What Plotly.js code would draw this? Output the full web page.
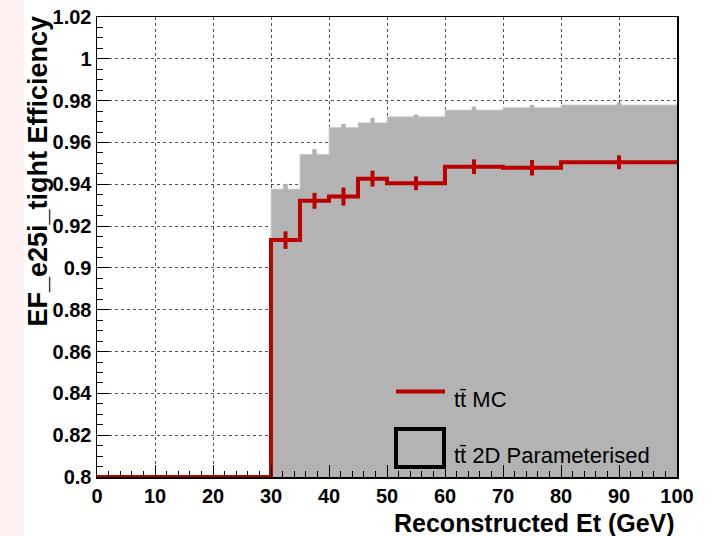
<!DOCTYPE html>
<html><head><meta charset="utf-8">
<script src="https://cdn.plot.ly/plotly-3.0.1.min.js"></script>
<style>html,body{margin:0;padding:0;background:#fff}#chart{width:708px;height:536px}</style>
</head><body><div id="chart"></div><script>
// ---- data ----
const binEdges = [0, 30, 35, 40, 45, 50, 60, 70, 80, 100];
const binCenters = [15, 32.5, 37.5, 42.5, 47.5, 55, 65, 75, 90];
const mcEff = [0, 0.9133, 0.9321, 0.9341, 0.9427, 0.9405, 0.9484, 0.9479, 0.9505];
const mcErr = [0, 0.0042, 0.0038, 0.0043, 0.0038, 0.0033, 0.0035, 0.0037, 0.0033];
const paramEff = [0, 0.9377, 0.9543, 0.9672, 0.9694, 0.9723, 0.9755, 0.9766, 0.9779];
const paramErr = [0, 0.0025, 0.0025, 0.0016, 0.0024, 0.0011, 0.0016, 0.0013, 0.0011];
const xTickVals = [0, 10, 20, 30, 40, 50, 60, 70, 80, 90, 100];
const xTickText = ['0', '10', '20', '30', '40', '50', '60', '70', '80', '90', '100'];
const yTickVals = [0.8, 0.82, 0.84, 0.86, 0.88, 0.9, 0.92, 0.94, 0.96, 0.98, 1, 1.02];
const yTickText = ['0.8', '0.82', '0.84', '0.86', '0.88', '0.9', '0.92', '0.94', '0.96', '0.98', '1', '1.02'];
const seriesNames = ['tt\u0304 MC', 'tt\u0304 2D Parameterised'];
const xTitle = 'Reconstructed Et (GeV)';
const yTitle = 'EF_e25i_tight Efficiency';

// ---- build ----
const yMin = 0.8, yMax = 1.02;
const RED = '#bb0000', GRAY = '#b3b3b3';
const FONT = 'Liberation Sans, Arial, Helvetica, sans-serif';
const stepY = v => v.concat([v[v.length - 1]]);

const traces = [
  { x: binEdges, y: stepY(paramEff), mode: 'lines', line: { shape: 'hv', color: '#d2d2d2', width: 1 },
    fill: 'tozeroy', fillcolor: GRAY, name: seriesNames[1], showlegend: false, hoverinfo: 'skip' },
  { x: binCenters.slice(1), y: paramEff.slice(1), mode: 'markers', marker: { size: 0.1, color: GRAY },
    error_y: { type: 'data', array: paramErr.slice(1), color: GRAY, thickness: 4.5, width: 0 },
    showlegend: false, hoverinfo: 'skip' },
  { x: binEdges, y: stepY(mcEff.map(v => Math.max(v, yMin))), mode: 'lines',
    line: { shape: 'hv', color: RED, width: 4 }, name: seriesNames[0], showlegend: false },
  { x: binCenters.slice(1), y: mcEff.slice(1), mode: 'markers', marker: { size: 0.1, color: RED },
    error_y: { type: 'data', array: mcErr.slice(1), color: RED, thickness: 4, width: 0 },
    showlegend: false, hoverinfo: 'skip' }
];

const PL = 97, PR = 677, PT = 17, PB = 477;
const px = p => (p - PL) / (PR - PL);
const py = p => (PB - p) / (PB - PT);

const axisCommon = {
  showline: true, mirror: true, linecolor: '#000', linewidth: 1.5,
  ticks: 'inside', ticklen: 12, tickwidth: 1, tickcolor: '#000',
  showgrid: true, gridcolor: '#555', griddash: 'dot', gridwidth: 1,
  zeroline: false, tickmode: 'array',
  tickfont: { family: FONT, size: 20, color: '#000', weight: 'bold' }
};

const layout = {
  width: 708, height: 536,
  margin: { l: PL, r: 708 - PR, t: PT, b: 536 - PB },
  paper_bgcolor: '#fff', plot_bgcolor: '#fff',
  showlegend: false,
  xaxis: Object.assign({}, axisCommon, {
    range: [0, 100], tickvals: xTickVals, ticktext: xTickText,
    minor: { dtick: 2, tick0: 0, ticks: 'inside', ticklen: 6, tickcolor: '#000', showgrid: false }
  }),
  yaxis: Object.assign({}, axisCommon, {
    range: [yMin, yMax], tickvals: yTickVals, ticktext: yTickText,
    minor: { dtick: 0.005, tick0: 0.8, ticks: 'inside', ticklen: 6, tickcolor: '#000', showgrid: false }
  }),
  shapes: [
    { type: 'rect', xref: 'paper', yref: 'paper', x0: px(0), x1: px(24), y0: py(536), y1: py(0),
      fillcolor: '#fff1f1', line: { width: 0 }, layer: 'below' },
    { type: 'line', xref: 'paper', yref: 'paper', x0: px(396), x1: px(445), y0: py(391.5), y1: py(391.5),
      line: { color: RED, width: 4 } },
    { type: 'rect', xref: 'paper', yref: 'paper', x0: px(396), x1: px(444), y0: py(467), y1: py(429),
      fillcolor: GRAY, line: { color: '#000', width: 4 } }
  ],
  annotations: [
    { text: seriesNames[0], xref: 'paper', yref: 'paper', x: px(452), y: py(399), xanchor: 'left', yanchor: 'middle',
      showarrow: false, font: { family: FONT, size: 22, color: '#000' } },
    { text: seriesNames[1], xref: 'paper', yref: 'paper', x: px(452), y: py(455.5), xanchor: 'left', yanchor: 'middle',
      showarrow: false, font: { family: FONT, size: 22, color: '#000' } },
    { text: xTitle, xref: 'paper', yref: 'paper', x: px(677), y: py(523), xanchor: 'right', yanchor: 'middle',
      showarrow: false, font: { family: FONT, size: 25, color: '#000', weight: 'bold' } },
    { text: yTitle, xref: 'paper', yref: 'paper', x: px(38), y: py(14), xanchor: 'center', yanchor: 'top',
      textangle: -90, showarrow: false, font: { family: FONT, size: 27, color: '#000', weight: 'bold' } }
  ]
};

Plotly.newPlot('chart', traces, layout, { displayModeBar: false, staticPlot: true });
</script></body></html>
